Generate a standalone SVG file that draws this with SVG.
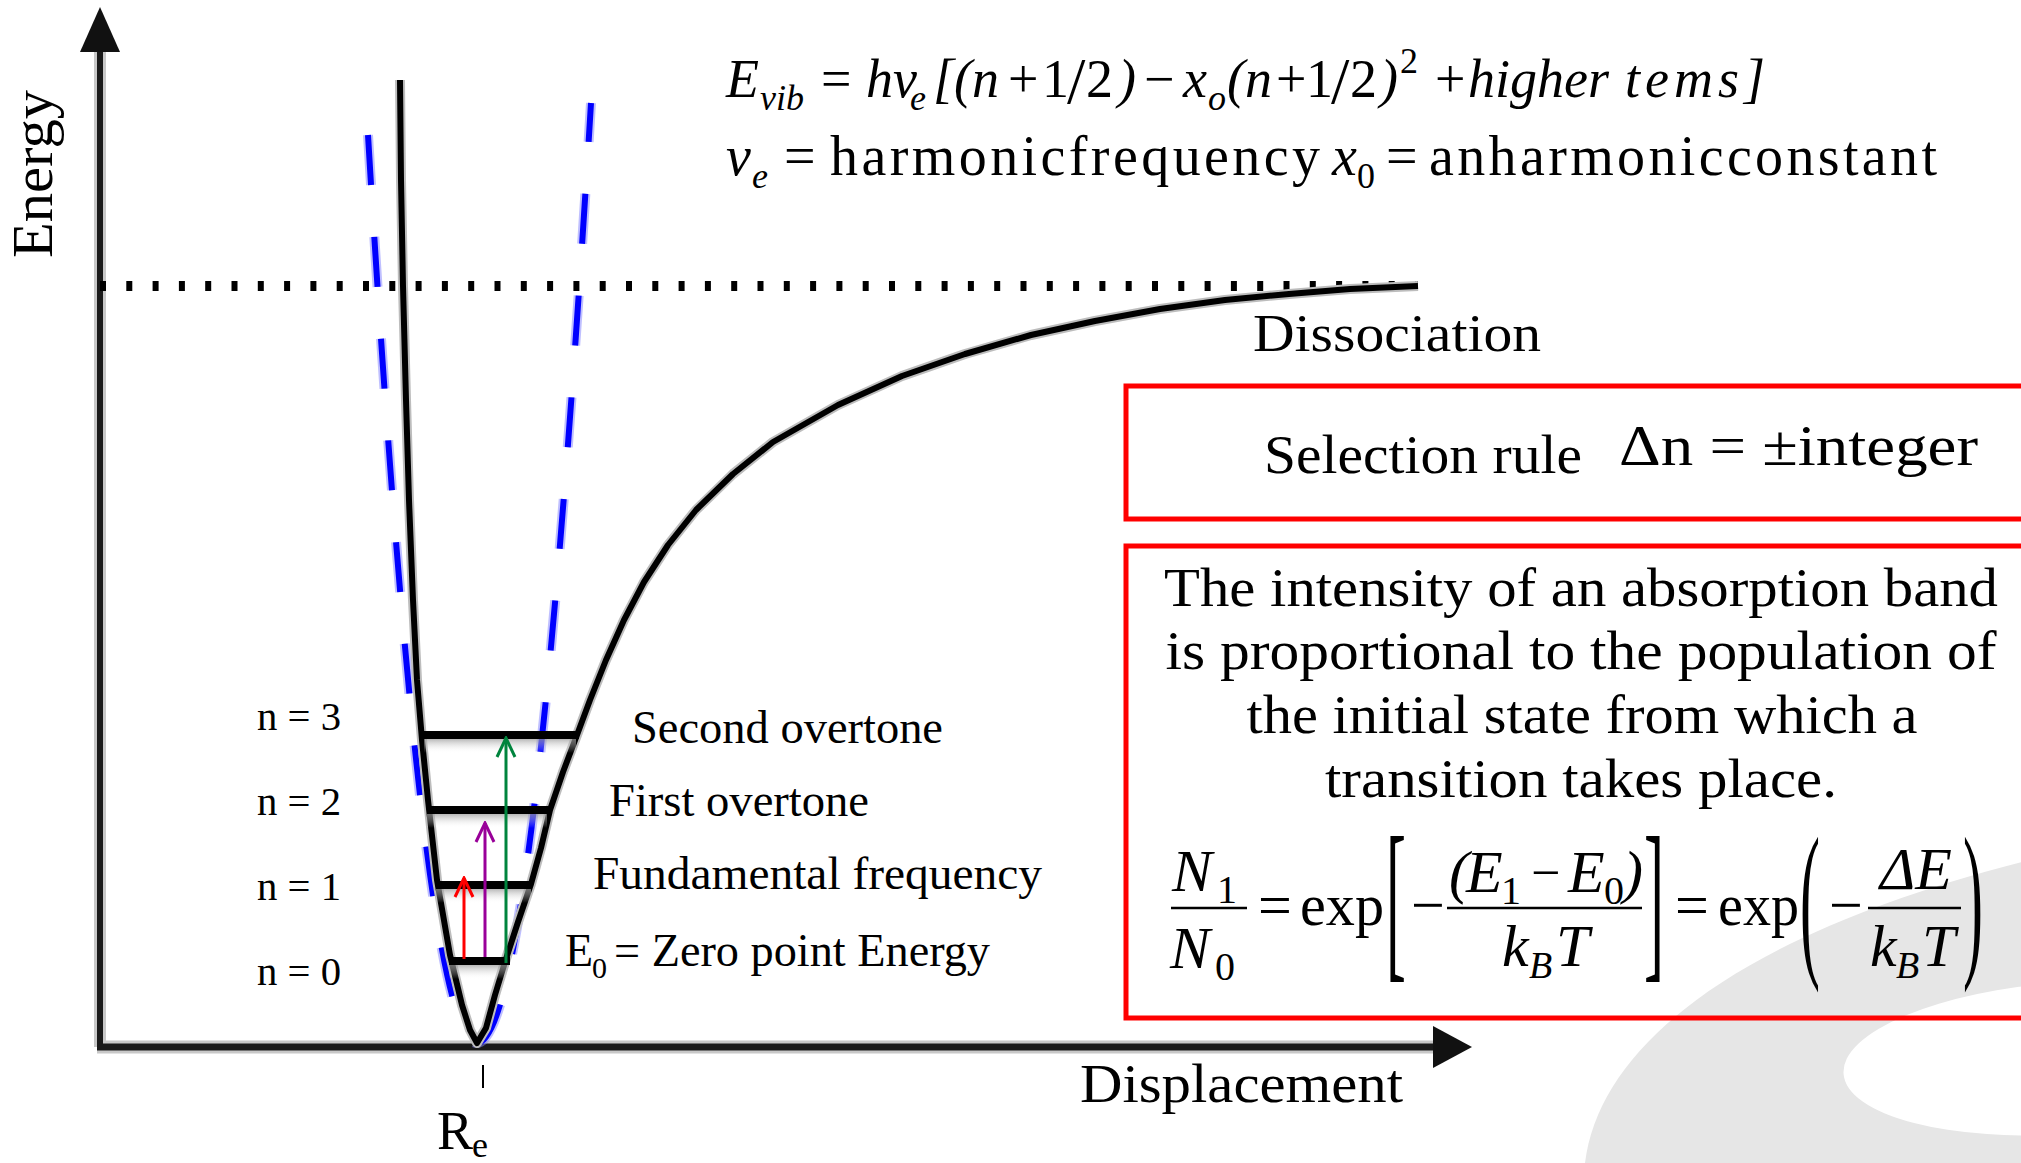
<svg xmlns="http://www.w3.org/2000/svg" width="2021" height="1163" viewBox="0 0 2021 1163">
<defs>
<style>
text{font-family:"Liberation Serif","DejaVu Serif",serif;fill:#000}
.i{font-style:italic}
.lvl{stroke:#000;stroke-width:8;stroke-linecap:butt}
.shade{fill:url(#shadeg)}
.box{fill:none;stroke:#ff0000;stroke-width:5}
.bar{stroke:#000;stroke-width:2.5}
.morse{fill:none;stroke-linejoin:round}
</style>
<linearGradient id="shadeg" x1="0" y1="0" x2="0" y2="1">
<stop offset="0" stop-color="#9a9a9a" stop-opacity="0.7"/>
<stop offset="1" stop-color="#ffffff" stop-opacity="0"/>
</linearGradient>
<marker id="chev-red" viewBox="-22 -11 24 22" refX="0" refY="0" markerWidth="24" markerHeight="22" markerUnits="userSpaceOnUse" orient="auto">
<path d="M-19,-9 L0,0 L-19,9" fill="none" stroke="#ff0000" stroke-width="3"/>
</marker>
<marker id="chev-purple" viewBox="-22 -11 24 22" refX="0" refY="0" markerWidth="24" markerHeight="22" markerUnits="userSpaceOnUse" orient="auto">
<path d="M-19,-9 L0,0 L-19,9" fill="none" stroke="#990099" stroke-width="3"/>
</marker>
<marker id="chev-green" viewBox="-22 -11 24 22" refX="0" refY="0" markerWidth="24" markerHeight="22" markerUnits="userSpaceOnUse" orient="auto">
<path d="M-19,-9 L0,0 L-19,9" fill="none" stroke="#00843d" stroke-width="3"/>
</marker>
</defs>
<rect x="0" y="0" width="2021" height="1163" fill="#ffffff"/>

<g id="background-swoosh">
<path d="M1585,1163 C1600,1040 1750,930 2030,860 L2030,1163 Z" fill="#e6e6e6"/>
<ellipse cx="2068" cy="1058" rx="225" ry="76" transform="rotate(-4 2068 1058)" fill="#ffffff"/>
</g>

<g id="axes">
<line x1="100" y1="1047" x2="100" y2="40" stroke="#c8c8c8" stroke-width="12"/>
<line x1="97" y1="1047" x2="1440" y2="1047" stroke="#c8c8c8" stroke-width="13"/>
<line x1="100" y1="1047" x2="100" y2="40" stroke="#1a1a1a" stroke-width="6"/>
<line x1="97" y1="1047" x2="1440" y2="1047" stroke="#1a1a1a" stroke-width="7"/>
<polygon points="100,7 120,52 80,52" fill="#111"/>
<polygon points="1472,1047 1433,1026 1433,1068" fill="#111"/>
<line x1="483" y1="1065" x2="483" y2="1088" stroke="#000" stroke-width="2"/>
</g>

<g id="dissociation-line">
<line x1="100" y1="286" x2="1418" y2="286" stroke="#000" stroke-width="10" stroke-dasharray="6 20.3"/>
</g>

<g id="harmonic-potential">
<path d="M368,135 Q422.5,1043 477,1043 Q534,1043 591,103" fill="none" stroke="#8080ff" stroke-opacity="0.5" stroke-width="10" stroke-dasharray="50 52"/>
<path d="M368,135 Q422.5,1043 477,1043 Q534,1043 591,103" fill="none" stroke="#0000ff" stroke-width="6" stroke-dasharray="50 52"/>
</g>

<g id="morse-potential">
<polyline class="morse" stroke="#bdbdbd" stroke-width="10" points="400,80 401,180 403,286 406,400 409,500 413,600 417,680 422,740 428,800 437,880 450,955 462,1005 470,1030 477,1043 486,1028 495,995 505,962 518,922 531,884 541,848 550,810 563,772 577,735 590,700 606,660 624,620 644,582 668,545 696,510 733,474 773,442 838,405 902,376 965,354 1031,335 1095,321 1160,309 1225,300 1289,294 1350,289 1418,286"/>
<polyline class="morse" stroke="#000" stroke-width="6" points="400,80 401,180 403,286 406,400 409,500 413,600 417,680 422,740 428,800 437,880 450,955 462,1005 470,1030 477,1043 486,1028 495,995 505,962 518,922 531,884 541,848 550,810 563,772 577,735 590,700 606,660 624,620 644,582 668,545 696,510 733,474 773,442 838,405 902,376 965,354 1031,335 1095,321 1160,309 1225,300 1289,294 1350,289 1418,286"/>
</g>

<g id="level-n3">
<rect class="shade" x="424" y="739" width="152" height="14"/>
<line class="lvl" x1="424" y1="735" x2="579" y2="735"/>
<text x="257" y="730" font-size="40" textLength="84" lengthAdjust="spacingAndGlyphs">n = 3</text>
</g>
<g id="level-n2">
<rect class="shade" x="427" y="814" width="120" height="14"/>
<line class="lvl" x1="427" y1="810" x2="550" y2="810"/>
<text x="257" y="815" font-size="40" textLength="84" lengthAdjust="spacingAndGlyphs">n = 2</text>
</g>
<g id="level-n1">
<rect class="shade" x="436" y="889" width="95" height="14"/>
<line class="lvl" x1="436" y1="885" x2="532" y2="885"/>
<text x="257" y="900" font-size="40" textLength="84" lengthAdjust="spacingAndGlyphs">n = 1</text>
</g>
<g id="level-n0">
<rect class="shade" x="449" y="965" width="58" height="14"/>
<line class="lvl" x1="449" y1="961" x2="510" y2="961"/>
<text x="257" y="985" font-size="40" textLength="84" lengthAdjust="spacingAndGlyphs">n = 0</text>
</g>

<g id="connectors">
<line x1="464" y1="959" x2="464" y2="878" stroke="#ff0000" stroke-width="3" marker-end="url(#chev-red)"/>
<line x1="485" y1="957" x2="485" y2="823" stroke="#990099" stroke-width="3" marker-end="url(#chev-purple)"/>
<line x1="506" y1="963" x2="506" y2="738" stroke="#00843d" stroke-width="3" marker-end="url(#chev-green)"/>
</g>

<g id="transition-labels">
<text x="632" y="743" font-size="46" textLength="311" lengthAdjust="spacingAndGlyphs">Second overtone</text>
<text x="609" y="816" font-size="46" textLength="260" lengthAdjust="spacingAndGlyphs">First overtone</text>
<text x="593" y="889" font-size="46" textLength="449" lengthAdjust="spacingAndGlyphs">Fundamental frequency</text>
<text x="565" y="966" font-size="46">E</text>
<text x="592" y="978" font-size="30">0</text>
<text x="614" y="966" font-size="46" textLength="376" lengthAdjust="spacingAndGlyphs">= Zero point Energy</text>
</g>

<g id="axis-labels">
<text transform="translate(52,174) rotate(-90)" text-anchor="middle" font-size="56" textLength="168" lengthAdjust="spacingAndGlyphs">Energy</text>
<text x="1080" y="1102" font-size="54" textLength="323" lengthAdjust="spacingAndGlyphs">Displacement</text>
<text x="1253" y="351" font-size="52" textLength="288" lengthAdjust="spacingAndGlyphs">Dissociation</text>
<text x="437" y="1149" font-size="54">R</text>
<text x="472" y="1157" font-size="36">e</text>
</g>

<g id="energy-formula">
<text font-size="54">
<tspan class="i" x="726" y="97">E</tspan><tspan class="i" x="760" y="110" font-size="36">vib</tspan><tspan x="821" y="97">=</tspan><tspan class="i" x="866" y="97">hv</tspan><tspan class="i" x="910" y="110" font-size="36">e</tspan><tspan class="i" x="933" y="97">[(n</tspan><tspan x="1008" y="97">+</tspan><tspan x="1042" y="97">1</tspan><tspan x="1067" y="103" font-size="66">/</tspan><tspan x="1086" y="97">2</tspan><tspan class="i" x="1118" y="97">)</tspan><tspan x="1144" y="97">−</tspan><tspan class="i" x="1183" y="97">x</tspan><tspan class="i" x="1208" y="110" font-size="36">o</tspan><tspan class="i" x="1227" y="97">(n</tspan><tspan x="1276" y="97">+</tspan><tspan x="1306" y="97">1</tspan><tspan x="1331" y="103" font-size="66">/</tspan><tspan x="1350" y="97">2</tspan><tspan class="i" x="1380" y="97">)</tspan><tspan x="1400" y="73" font-size="36">2</tspan><tspan x="1435" y="97">+</tspan>
</text>
<text class="i" x="1468" y="97" font-size="54">higher</text>
<text class="i" x="1625" y="97" font-size="54" textLength="140" lengthAdjust="spacing">tems]</text>
<text font-size="56">
<tspan class="i" x="726" y="175">v</tspan><tspan class="i" x="752" y="188" font-size="36">e</tspan><tspan x="784" y="175">=</tspan>
</text>
<text x="830" y="175" font-size="56" textLength="490" lengthAdjust="spacing">harmonicfrequency</text>
<text font-size="56">
<tspan class="i" x="1332" y="175">x</tspan><tspan x="1357" y="188" font-size="36">0</tspan><tspan x="1386" y="175">=</tspan>
</text>
<text x="1429" y="175" font-size="56" textLength="508" lengthAdjust="spacing">anharmonicconstant</text>
</g>

<g id="selection-rule-box">
<rect class="box" x="1126" y="386" width="920" height="133"/>
<text x="1264" y="473" font-size="54" textLength="318" lengthAdjust="spacingAndGlyphs">Selection rule</text>
<text x="1619" y="465" font-size="56" textLength="359" lengthAdjust="spacingAndGlyphs">Δn = ±integer</text>
</g>

<g id="intensity-box">
<rect class="box" x="1126" y="546" width="920" height="472"/>
<text x="1581" y="606" font-size="54" text-anchor="middle" textLength="834" lengthAdjust="spacingAndGlyphs">The intensity of an absorption band</text>
<text x="1581" y="669" font-size="54" text-anchor="middle" textLength="831" lengthAdjust="spacingAndGlyphs">is proportional to the population of</text>
<text x="1582" y="733" font-size="54" text-anchor="middle" textLength="671" lengthAdjust="spacingAndGlyphs">the initial state from which a</text>
<text x="1581" y="797" font-size="54" text-anchor="middle" textLength="512" lengthAdjust="spacingAndGlyphs">transition takes place.</text>
<g id="boltzmann-equation">
<text font-size="60"><tspan class="i" x="1172" y="891">N</tspan><tspan x="1217" y="903" font-size="40">1</tspan></text>
<line class="bar" x1="1171" y1="908" x2="1247" y2="908"/>
<text font-size="60"><tspan class="i" x="1170" y="968">N</tspan><tspan x="1215" y="980" font-size="40">0</tspan></text>
<text x="1258" y="925" font-size="60">=</text>
<text x="1300" y="925" font-size="60" textLength="84" lengthAdjust="spacingAndGlyphs">exp</text>
<text transform="translate(1386,958) scale(1,2.95)" font-size="60">[</text>
<text x="1411" y="925" font-size="60">−</text>
<text font-size="60"><tspan class="i" x="1449" y="892">(</tspan><tspan class="i" x="1466" y="892">E</tspan><tspan x="1501" y="904" font-size="40">1</tspan><tspan x="1531" y="890" font-size="52">−</tspan><tspan class="i" x="1568" y="892">E</tspan><tspan x="1604" y="904" font-size="40">0</tspan><tspan class="i" x="1623" y="892">)</tspan></text>
<line class="bar" x1="1447" y1="908" x2="1642" y2="908"/>
<text font-size="60"><tspan class="i" x="1502" y="966">k</tspan><tspan class="i" x="1529" y="978" font-size="38">B</tspan><tspan class="i" x="1556" y="966">T</tspan></text>
<text transform="translate(1644,958) scale(1,2.95)" font-size="60">]</text>
<text x="1675" y="925" font-size="60">=</text>
<text x="1718" y="925" font-size="60" textLength="81" lengthAdjust="spacingAndGlyphs">exp</text>
<text transform="translate(1800,956) scale(1,2.85)" font-size="60">(</text>
<text x="1829" y="925" font-size="60">−</text>
<text class="i" x="1880" y="889" font-size="60">ΔE</text>
<line class="bar" x1="1868" y1="908" x2="1961" y2="908"/>
<text font-size="60"><tspan class="i" x="1870" y="966">k</tspan><tspan class="i" x="1896" y="978" font-size="38">B</tspan><tspan class="i" x="1922" y="966">T</tspan></text>
<text transform="translate(1963,956) scale(1,2.85)" font-size="60">)</text>
</g>
</g>
</svg>
